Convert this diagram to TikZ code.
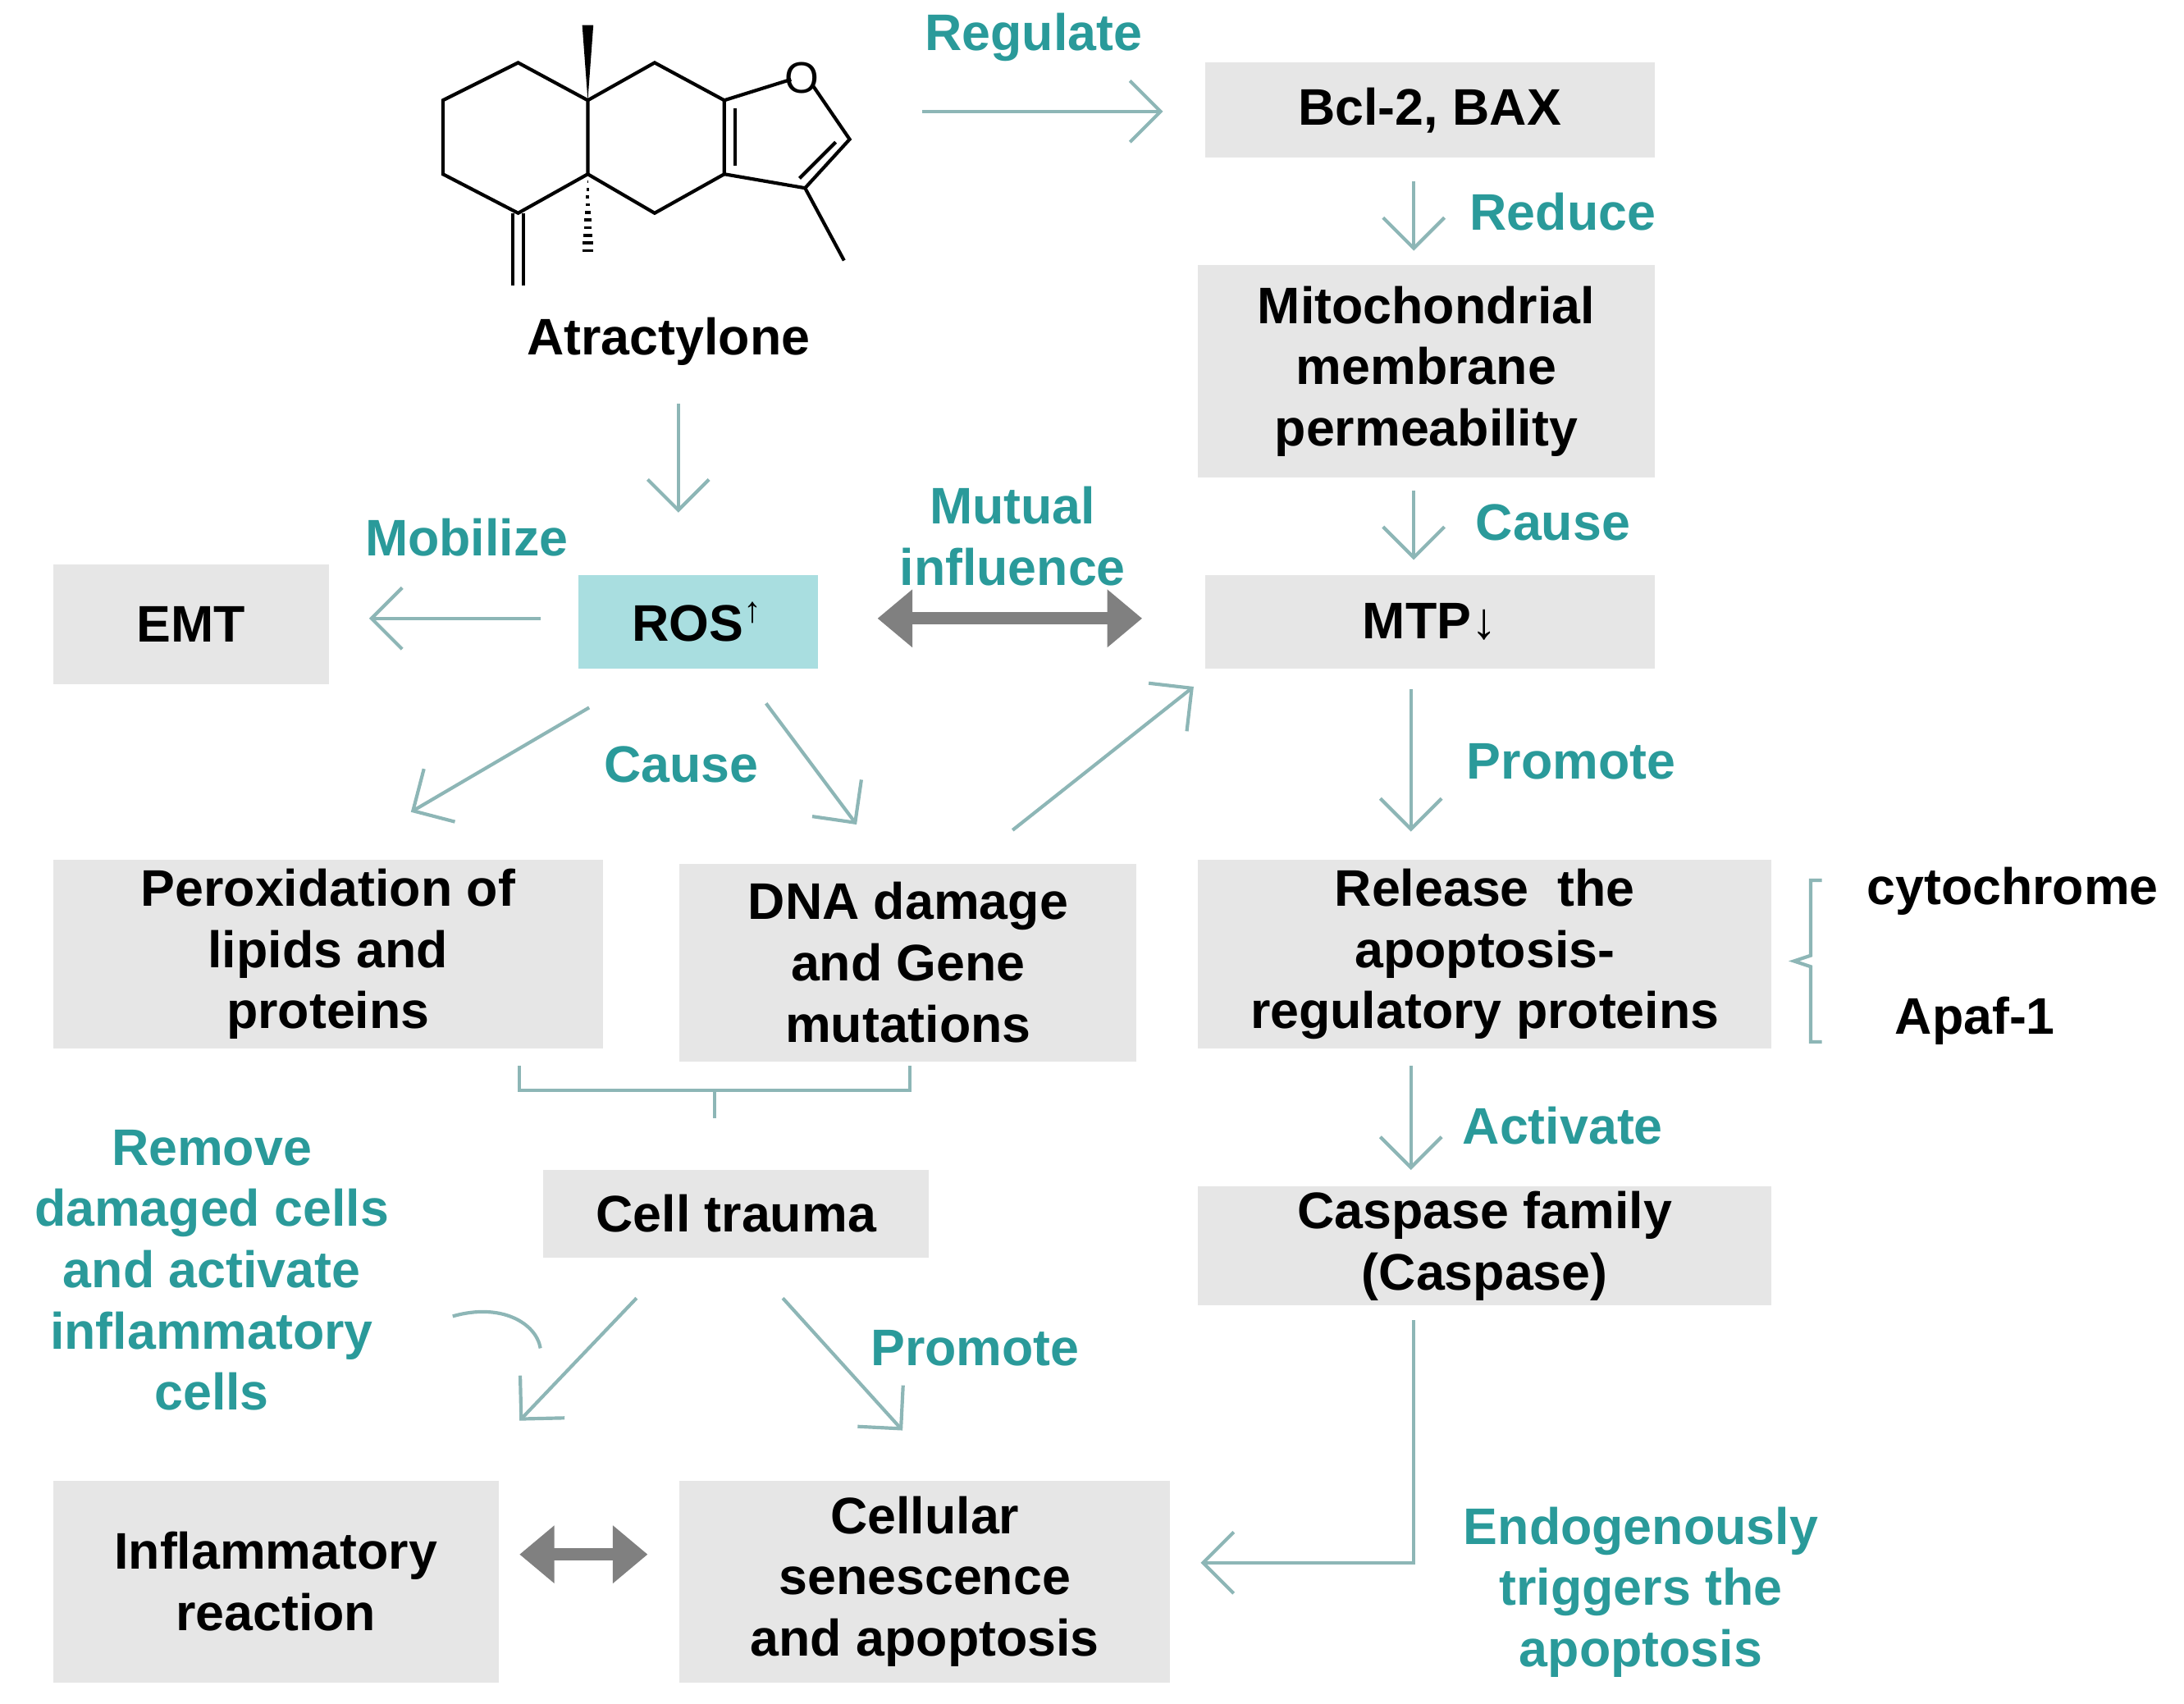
\documentclass[tikz,border=0pt]{standalone}
\usepackage{fontspec}
\setmainfont{Liberation Sans}
\usetikzlibrary{arrows.meta,decorations.pathreplacing}
\definecolor{boxg}{HTML}{E6E6E6}
\definecolor{rosc}{HTML}{A9DEE0}
\definecolor{arr}{HTML}{8DB6B6}
\definecolor{lab}{HTML}{2A9A9A}
\tikzset{x=0.01cm,y=-0.01cm,
 box/.style={fill=boxg,align=center,font=\bfseries\fontsize{10.5}{12.5}\selectfont,inner sep=0},
 lbl/.style={text=lab,align=center,font=\bfseries\fontsize{10.5}{12.5}\selectfont},
 blk/.style={align=center,font=\bfseries\fontsize{10.5}{12.5}\selectfont},
 ar/.style={draw=arr,line width=0.7pt,-{Straight Barb[length=2.2mm,width=4.4mm]}},
 dbl/.style={draw=gray,line width=2.5pt,{Triangle[length=2.5mm,width=4mm]}-{Triangle[length=2.5mm,width=4mm]}},
 bond/.style={line width=0.7pt}}
\newcommand{\bx}[4]{\path[box,fill=boxg] (#1) rectangle (#2) node[midway,box,fill=none] (#3) {#4};}
\begin{document}
\begin{tikzpicture}
\useasboundingbox (0,0) rectangle (1568,1223);
% molecule
\draw[bond] (422,72)--(372,45)--(318,72)--(318,125)--(372,153)--(422,125)--cycle;
\draw[bond] (422,72)--(470,45)--(520,72)--(520,125)--(470,153)--(422,125);
\draw[bond] (528,78)--(528,119);
\draw[bond] (520,72)--(568,57);
\node[font=\fontsize{9}{10}\selectfont,inner sep=1pt] (O) at (576,56) {O};
\draw[bond] (584,62)--(610,100)--(578,135)--(520,125);
\draw[bond] (600,102)--(574,128);
\draw[bond] (578,135)--(606,187);
\fill (422,72)--(418,18)--(426,18)--cycle;
\foreach \t in {0.1,0.2,...,1.0} \draw[line width=0.6pt] ({422-4*\t},{125+55*\t})--({422+4*\t},{125+55*\t});
\draw[bond] (368,153)--(368,205);
\draw[bond] (376,153)--(376,205);
\node[blk] (atr) at (480,245) {Atractylone};
% boxes
\bx{865,45}{1188,113}{bcl}{Bcl-2, BAX}
\bx{860,190}{1188,343}{mito}{Mitochondrial\\membrane\\permeability}
\bx{865,413}{1188,480}{mtp}{MTP↓}
\path[fill=rosc] (415,413) rectangle (587,480) node[midway,blk] (ros) {ROS\textsuperscript{↑}};
\bx{38,405}{236,491}{emt}{EMT}
\bx{38,617}{433,753}{per}{Peroxidation of\\lipids and\\proteins}
\bx{488,620}{816,762}{dna}{DNA damage\\and Gene\\mutations}
\bx{860,617}{1272,753}{rel}{Release\ \ the\\apoptosis-\\regulatory proteins}
\bx{390,840}{667,903}{ct}{Cell trauma}
\bx{860,852}{1272,937}{cas}{Caspase family\\(Caspase)}
\bx{38,1063}{358,1208}{inf}{Inflammatory\\reaction}
\bx{488,1063}{840,1208}{cel}{Cellular\\senescence\\and apoptosis}
% arrows
\coordinate (a1) at (662,80); \coordinate (a2) at (835,80);
\draw[ar] (a1)--(a2);
\node[lbl] (l1) at (742,27) {Regulate};
\coordinate (b1) at (1015,130); \coordinate (b2) at (1015,180);
\draw[ar] (b1)--(b2); \node[lbl] (l2) at (1122,152) {Reduce};
\coordinate (c1) at (1015,352); \coordinate (c2) at (1015,402);
\draw[ar] (c1)--(c2); \node[lbl] (l3) at (1115,375) {Cause};
\coordinate (d1) at (487,290); \coordinate (d2) at (487,368);
\draw[ar] (d1)--(d2);
\coordinate (e1) at (388,444); \coordinate (e2) at (265,444);
\draw[ar] (e1)--(e2); \node[lbl] (l4) at (335,386) {Mobilize};
\coordinate (f1) at (630,444); \coordinate (f2) at (820,444);
\draw[dbl] (f1)--(f2); \node[lbl] (l5) at (727,385) {Mutual\\influence};
\coordinate (g1) at (423,508); \coordinate (g2) at (295,583);
\draw[ar] (g1)--(g2);
\coordinate (h1) at (550,505); \coordinate (h2) at (615,592);
\draw[ar] (h1)--(h2); \node[lbl] (l6) at (489,549) {Cause};
\coordinate (i1) at (727,596); \coordinate (i2) at (857,493);
\draw[ar] (i1)--(i2);
\coordinate (j1) at (1013,495); \coordinate (j2) at (1013,597);
\draw[ar] (j1)--(j2); \node[lbl] (l7) at (1128,547) {Promote};
\coordinate (k1) at (1013,765); \coordinate (k2) at (1013,840);
\draw[ar] (k1)--(k2); \node[lbl] (l8) at (1122,808) {Activate};
\draw[draw=arr,line width=0.7pt] (1308,632)--(1300,632)--(1300,686)--(1288,690)--(1300,694)--(1300,748)--(1308,748);
\node[blk] (cyt) at (1445,640) {cytochrome};
\node[blk] (apa) at (1418,733) {Apaf-1};
\draw[draw=arr,line width=0.7pt] (373,765)--(373,783)--(653,783)--(653,765) (513,783)--(513,803);
\coordinate (m1) at (457,932); \coordinate (m2) at (373,1020);
\draw[ar] (m1)--(m2);
\coordinate (n1) at (562,932); \coordinate (n2) at (648,1027);
\draw[ar] (n1)--(n2); \node[lbl] (l9) at (700,968) {Promote};
\draw[draw=arr,line width=0.7pt] (325,945) .. controls (360,935) and (385,950) .. (388,968);
\node[lbl] (l10) at (152,912) {Remove\\damaged cells\\and activate\\inflammatory\\cells};
\coordinate (o1) at (373,1116); \coordinate (o2) at (465,1116);
\draw[dbl] (o1)--(o2);
\coordinate (p1) at (1015,948); \coordinate (p2) at (862,1122);
\draw[ar] (p1)|-(p2);
\node[lbl] (l11) at (1178,1143) {Endogenously\\triggers the\\apoptosis};
\end{tikzpicture}
\end{document}
